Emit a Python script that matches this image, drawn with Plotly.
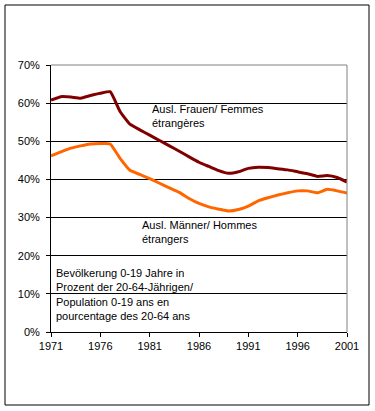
import plotly.graph_objects as go

years = list(range(1971, 2002))
frauen = [60.8, 61.7, 61.6, 61.3, 62.0, 62.6, 63.0, 57.8, 54.5, 53.0, 51.6, 50.2, 48.8, 47.4, 45.9, 44.5,
          43.4, 42.3, 41.6, 42.0, 42.9, 43.2, 43.1, 42.8, 42.5, 42.0, 41.5, 40.8, 41.0, 40.5, 39.3]
maenner = [46.2, 47.2, 48.2, 48.8, 49.3, 49.4, 49.3, 45.5, 42.4, 41.3, 40.2, 39.0, 37.8, 36.6, 35.0, 33.7,
           32.8, 32.2, 31.7, 32.1, 33.0, 34.4, 35.2, 35.9, 36.5, 37.0, 37.0, 36.5, 37.4, 37.0, 36.4]
x_ticks = [1971, 1976, 1981, 1986, 1991, 1996, 2001]
y_ticks = [0, 10, 20, 30, 40, 50, 60, 70]

FONT = "Liberation Sans, Arial, sans-serif"

fig = go.Figure()
fig.add_trace(go.Scatter(x=years, y=frauen, mode="lines",
                         line=dict(color="#800000", width=3, shape="spline", smoothing=0.4),
                         showlegend=False, hoverinfo="skip"))
fig.add_trace(go.Scatter(x=years, y=maenner, mode="lines",
                         line=dict(color="#FF6600", width=3, shape="spline", smoothing=0.4),
                         showlegend=False, hoverinfo="skip"))

fig.update_layout(
    width=375, height=411,
    margin=dict(l=51, r=28, t=65, b=79),
    paper_bgcolor="white", plot_bgcolor="white",
    font=dict(family=FONT, size=11, color="black"),
    xaxis=dict(range=[1971, 2001], tickvals=x_ticks, ticktext=[str(v) for v in x_ticks],
               showgrid=False, zeroline=False, showline=True, linecolor="black", linewidth=1,
               ticks="outside", ticklen=4, tickcolor="black", tickfont=dict(size=11)),
    yaxis=dict(range=[0, 70], tickvals=y_ticks, ticktext=[f"{v}%" for v in y_ticks],
               showgrid=True, gridcolor="black", gridwidth=1, zeroline=False,
               showline=True, linecolor="black", linewidth=1, ticklabelstandoff=4,
               ticks="outside", ticklen=4, tickcolor="black", tickfont=dict(size=11)),
    shapes=[
        dict(type="line", xref="paper", yref="paper", x0=0, x1=1, y0=1, y1=1,
             line=dict(color="#808080", width=1), layer="above"),
        dict(type="line", xref="paper", yref="paper", x0=1, x1=1, y0=0, y1=1,
             line=dict(color="#808080", width=1), layer="above"),
        dict(type="rect", xref="paper", yref="paper",
             x0=(5 - 51) / 296, x1=(369 - 51) / 296,
             y0=-(405 - 332) / 267, y1=1 + (65 - 5) / 267,
             line=dict(color="black", width=1), fillcolor="rgba(0,0,0,0)", layer="below"),
    ],
    annotations=[
        dict(x=1981.0, y=56.5, xref="x", yref="y", text="Ausl. Frauen/ Femmes<br>étrangères",
             showarrow=False, xanchor="left", yanchor="middle", align="left", font=dict(size=11)),
        dict(x=1980.0, y=26.2, xref="x", yref="y", text="Ausl. Männer/ Hommes<br>étrangers",
             showarrow=False, xanchor="left", yanchor="middle", align="left", font=dict(size=11)),
        dict(x=1971.3, y=9.85, xref="x", yref="y",
             text="Bevölkerung 0-19 Jahre in<br>Prozent der 20-64-Jährigen/<br>Population 0-19 ans en<br>pourcentage des 20-64 ans",
             showarrow=False, xanchor="left", yanchor="middle", align="left", font=dict(size=11)),
    ],
)

fig.write_html("out.html", config={"displayModeBar": False},
               post_script="document.body.style.margin='0';document.body.style.overflow='hidden';")
